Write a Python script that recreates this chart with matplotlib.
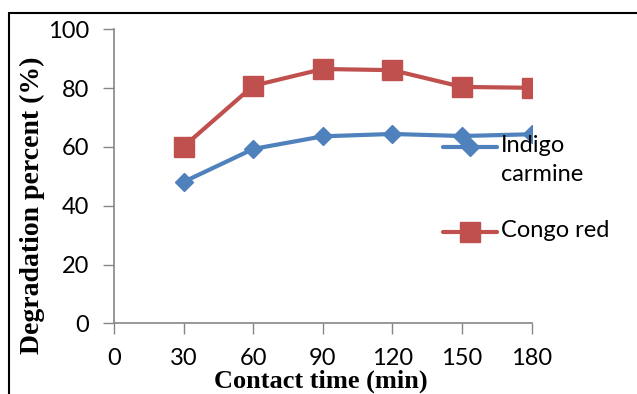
import matplotlib.pyplot as plt
from matplotlib.lines import Line2D
from matplotlib.patches import Rectangle

time_min = [30, 60, 90, 120, 150, 180]
indigo = [48.1, 59.3, 63.6, 64.4, 63.7, 64.3]
congo = [60.1, 80.8, 86.5, 86.1, 80.4, 80.1]
xticks = [0, 30, 60, 90, 120, 150, 180]
yticks = [0, 20, 40, 60, 80, 100]

blue = '#4F81BD'
red = '#C0504D'
grey = '#868686'
W, H = 637, 394

fig = plt.figure(figsize=(W / 100, H / 100), dpi=100)
plt.rcParams['font.family'] = ['Lato', 'DejaVu Sans']

# axes box in pixels from the reference: x 114..532, y 29..323
ax = fig.add_axes([114 / W, 1 - 323.3 / H, (531.7 - 114) / W, (323.3 - 29.3) / H])

ax.plot(time_min, indigo, color=blue, lw=3, marker='D', ms=9.5, label='Indigo\ncarmine')
ax.plot(time_min, congo, color=red, lw=3, marker='s', ms=14, label='Congo red')

ax.set_xlim(0, 180)
ax.set_ylim(0, 100)
ax.set_xticks(xticks)
ax.set_yticks(yticks)
ax.tick_params(axis='both', direction='out', length=8, width=1, color=grey,
               labelsize=17, pad=10)
for side in ['top', 'right']:
    ax.spines[side].set_visible(False)
for side in ['left', 'bottom']:
    ax.spines[side].set_color(grey)
    ax.spines[side].set_linewidth(1.2)

ax.set_ylabel('Degradation percent (%)', family='Liberation Serif',
              fontweight='bold', fontsize=20)
ax.yaxis.set_label_coords(-0.196, 0.40)
ax.yaxis.label.set_va('center')
ax.set_xlabel('Contact time (min)', family='Liberation Serif',
              fontweight='bold', fontsize=19)
ax.xaxis.set_label_coords(0.494, -0.196)
ax.xaxis.label.set_va('center')

# legend drawn by hand (handle aligned with first text line, as in Excel)
def px(x, y):
    return ((x - 114) / 417.7, (323.3 - y) / 294)

for line, ly in [(ax.lines[0], 147), (ax.lines[1], 231.5)]:
    x0, y0 = px(443, ly)
    x1, _ = px(497, ly)
    xm, _ = px(470, ly)
    ax.add_line(Line2D([x0, x1], [y0, y0], transform=ax.transAxes, color=line.get_color(),
                       lw=3, clip_on=False, solid_capstyle='round'))
    ax.add_line(Line2D([xm], [y0], transform=ax.transAxes, color=line.get_color(),
                       marker=line.get_marker(), ms=line.get_markersize(), clip_on=False))
    tx, _ = px(501, ly)
    ax.text(tx, y0 + 0.04, line.get_label(), transform=ax.transAxes, fontsize=17,
            va='top', ha='left', linespacing=1.45)

fig.add_artist(Rectangle((9 / W, -0.5), 2, 1.5 - 13 / H, transform=fig.transFigure,
                         fill=False, ec='black', lw=1.5))

fig.savefig('out.png', dpi=100)
